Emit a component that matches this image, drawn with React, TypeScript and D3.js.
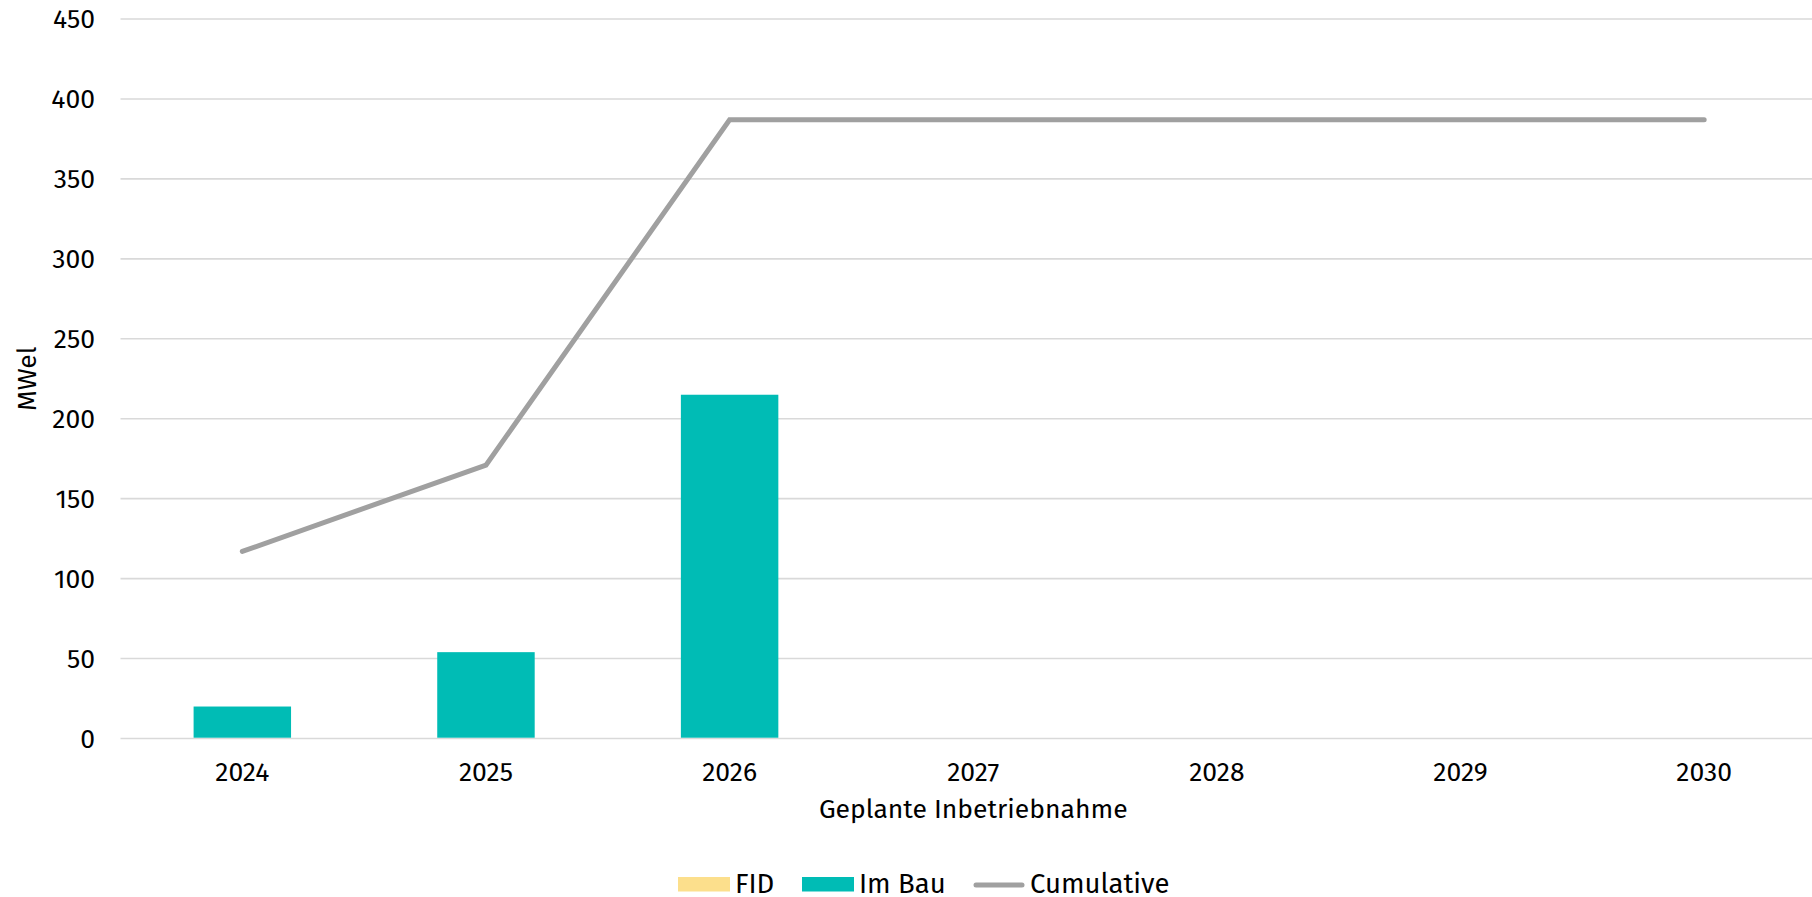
import React from "react";
import * as d3 from "d3";

const years = ["2024", "2025", "2026", "2027", "2028", "2029", "2030"];
const fidValues = [0, 0, 0, 0, 0, 0, 0];
const imBauValues = [20, 54, 215, 0, 0, 0, 0];
const cumulativeValues = [117, 171, 387, 387, 387, 387, 387];
const yTicks = [0, 50, 100, 150, 200, 250, 300, 350, 400, 450];

const W = 1812;
const H = 897;
const left = 120.5;
const right = 1826;
const top = 19;
const bottom = 738.5;
const FONT = "'Fira Sans', 'Noto Sans', 'Open Sans', sans-serif";
const FS = 26.5;
const LFS = 27.5;
const TEAL = "#00BCB5";
const FIDC = "#FCDF8C";
const GREY = "#A0A0A0";

export default function App() {
  const x = d3.scaleBand<string>().domain(years).range([left, right]).paddingInner(0.6).paddingOuter(0.3);
  const y = d3.scaleLinear().domain([0, 450]).range([bottom, top]);
  const cx = (d: string) => (x(d) as number) + x.bandwidth() / 2;
  const line = d3
    .line<number>()
    .x((_, i) => cx(years[i]))
    .y((v) => y(v));

  return (
    <svg
      width={W}
      height={H}
      style={{ position: "absolute", left: 0, top: 0, background: "#fff" }}
      fontFamily={FONT}
    >
      {yTicks.map((t) => (
        <g key={t}>
          <line x1={left} x2={right} y1={y(t)} y2={y(t)} stroke="#D9D9D9" strokeWidth={1.6} />
          <text x={95} y={y(t)} dy="0.35em" textAnchor="end" fontSize={FS} fill="#000">
            {t}
          </text>
        </g>
      ))}
      {years.map((yr, i) => (
        <g key={yr}>
          {fidValues[i] > 0 && (
            <rect
              x={x(yr)}
              width={x.bandwidth()}
              y={y(imBauValues[i] + fidValues[i])}
              height={y(imBauValues[i]) - y(imBauValues[i] + fidValues[i])}
              fill={FIDC}
            />
          )}
          {imBauValues[i] > 0 && (
            <rect
              x={x(yr)}
              width={x.bandwidth()}
              y={y(imBauValues[i])}
              height={y(0) - y(imBauValues[i]) - 0.8}
              fill={TEAL}
            />
          )}
          <text x={cx(yr)} y={772} dy="0.35em" textAnchor="middle" fontSize={FS} fill="#000">
            {yr}
          </text>
        </g>
      ))}
      <path
        d={line(cumulativeValues) || ""}
        fill="none"
        stroke={GREY}
        strokeWidth={5}
        strokeLinecap="round"
        strokeLinejoin="miter"
      />
      <text x={(left + right) / 2} y={818} textAnchor="middle" fontSize={FS} fill="#000">
        Geplante Inbetriebnahme
      </text>
      <text
        transform={`translate(36, ${(top + bottom) / 2}) rotate(-90)`}
        textAnchor="middle"
        fontSize={FS}
        fill="#000"
      >
        MWel
      </text>
      <g>
        <rect x={678} y={877} width={52} height={14.5} fill={FIDC} />
        <text x={735} y={883} dy="0.35em" fontSize={LFS} fill="#000">FID</text>
        <rect x={802} y={877} width={52} height={14.5} fill={TEAL} />
        <text x={859} y={883} dy="0.35em" fontSize={LFS} fill="#000">Im Bau</text>
        <line x1={976} x2={1022} y1={885} y2={885} stroke={GREY} strokeWidth={5} strokeLinecap="round" />
        <text x={1030} y={883} dy="0.35em" fontSize={LFS} fill="#000">Cumulative</text>
      </g>
    </svg>
  );
}
